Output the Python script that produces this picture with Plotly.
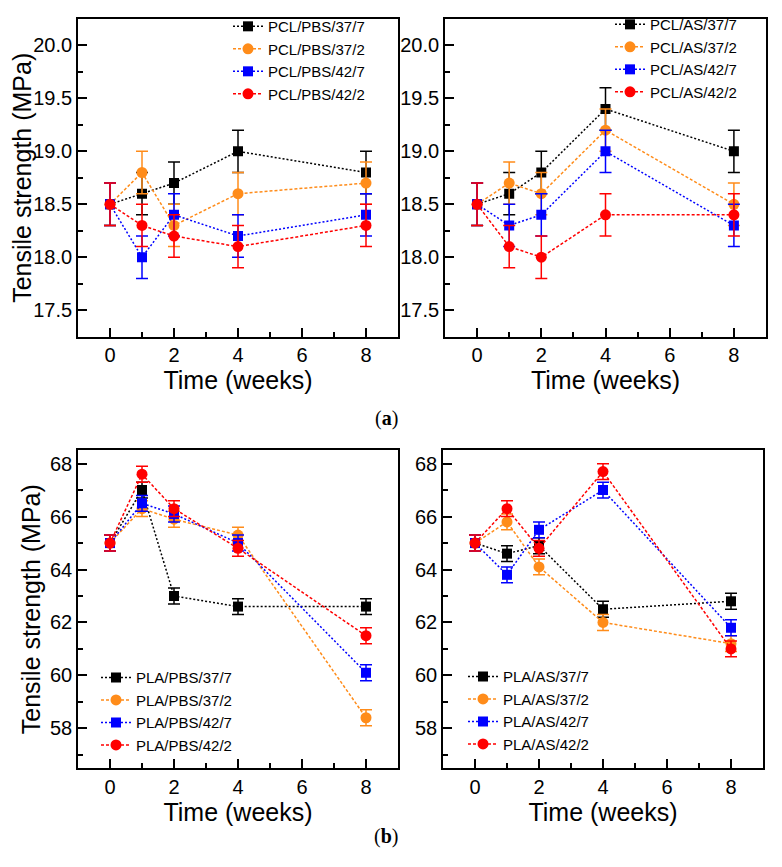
import plotly.graph_objects as go

weeks = [0, 1, 2, 4, 8]

series_names = ["37/7", "37/2", "42/7", "42/2"]
colors = ["#000000", "#FF8C1A", "#0000FF", "#FF0000"]
symbols = ["square", "circle", "square", "circle"]
dashes = ["2px,2px", "3px,2px", "2px,2px", "3px,2px"]

# (a) PCL blends
pcl_pbs = [
    [18.5, 18.6, 18.7, 19.0, 18.8],
    [18.5, 18.8, 18.3, 18.6, 18.7],
    [18.5, 18.0, 18.4, 18.2, 18.4],
    [18.5, 18.3, 18.2, 18.1, 18.3],
]
pcl_pbs_err = [0.2, 0.2, 0.2, 0.2]

pcl_as = [
    [18.5, 18.6, 18.8, 19.4, 19.0],
    [18.5, 18.7, 18.6, 19.2, 18.5],
    [18.5, 18.3, 18.4, 19.0, 18.3],
    [18.5, 18.1, 18.0, 18.4, 18.4],
]
pcl_as_err = [0.2, 0.2, 0.2, 0.2]

# (b) PLA blends
pla_pbs = [
    [65.0, 67.0, 63.0, 62.6, 62.6],
    [65.0, 66.3, 65.9, 65.3, 58.4],
    [65.0, 66.5, 66.1, 65.0, 60.1],
    [65.0, 67.6, 66.3, 64.8, 61.5],
]
pla_pbs_err = [0.3, 0.3, 0.3, 0.3]

pla_as = [
    [65.0, 64.6, 64.9, 62.5, 62.8],
    [65.0, 65.8, 64.1, 62.0, 61.2],
    [65.0, 63.8, 65.5, 67.0, 61.8],
    [65.0, 66.3, 64.8, 67.7, 61.0],
]
pla_as_err = [0.3, 0.3, 0.3, 0.3]

panels = [
    ("PCL/PBS", pcl_pbs, pcl_pbs_err, "x", "y", "legend"),
    ("PCL/AS", pcl_as, pcl_as_err, "x2", "y2", "legend2"),
    ("PLA/PBS", pla_pbs, pla_pbs_err, "x3", "y3", "legend3"),
    ("PLA/AS", pla_as, pla_as_err, "x4", "y4", "legend4"),
]

FONT = "Liberation Sans, Arial, sans-serif"
OFF = 8  # page body margin
W, H = 782 - OFF, 867 - OFF

fig = go.Figure()
for prefix, data, errs, xa, ya, lg in panels:
    for i in range(4):
        fig.add_trace(go.Scatter(
            x=weeks, y=data[i], mode="lines+markers",
            name=f"{prefix}/{series_names[i]}",
            line=dict(color=colors[i], width=1.5, dash=dashes[i]),
            marker=dict(symbol=symbols[i], size=11 if symbols[i] == "circle" else 10,
                        color=colors[i], line=dict(width=0)),
            error_y=dict(type="constant", value=errs[i], color=colors[i],
                         thickness=1.5, width=6),
            xaxis=xa, yaxis=ya, legend=lg,
        ))

def px2x(p):
    return (p - OFF) / W

def px2y(p):
    return 1 - (p - OFF) / H

axis_common = dict(
    showline=True, linecolor="black", linewidth=1.6, mirror=True,
    ticks="inside", ticklen=9, tickwidth=1.5, tickcolor="black",
    showgrid=False, zeroline=False, automargin=False,
    tickfont=dict(family=FONT, size=20, color="black"),
)

def xaxis(dom, anchor):
    return dict(axis_common, domain=dom, anchor=anchor, range=[-1, 9],
                tickmode="linear", tick0=0, dtick=2,
                minor=dict(ticks="inside", ticklen=5, tickwidth=1.5, tickcolor="black", dtick=1, tick0=0),
                title=dict(text="Time (weeks)", font=dict(family=FONT, size=25, color="black"), standoff=0))

def yaxis(dom, anchor, rng, dtick, mdtick, fmt, title):
    d = dict(axis_common, domain=dom, anchor=anchor, range=rng,
             tickmode="linear", tick0=0, dtick=dtick, tickformat=fmt,
             minor=dict(ticks="inside", ticklen=5, tickwidth=1.5, tickcolor="black", dtick=mdtick, tick0=0))
    if title:
        d["title"] = dict(text="Tensile strength (MPa)", font=dict(family=FONT, size=25, color="black"), standoff=2)
    return d

xa_left = [px2x(78), px2x(398)]
xa_right = [px2x(445), px2x(766)]
xb_left = [px2x(78), px2x(398)]
xb_right = [px2x(443), px2x(763)]
ya_dom = [px2y(331), px2y(10)]
yb_dom = [px2y(767), px2y(446)]

legend_common = dict(bgcolor="rgba(0,0,0,0)", borderwidth=0,
                     font=dict(family=FONT, size=15, color="black"),
                     xanchor="left", yanchor="top", tracegroupgap=0, itemwidth=30)

fig.update_layout(
    width=W, height=H, template="none",
    paper_bgcolor="white", plot_bgcolor="white",
    margin=dict(l=0, r=0, t=0, b=0),
    showlegend=True,
    xaxis=xaxis(xa_left, "y"),
    yaxis=yaxis(ya_dom, "x", [17.25, 20.25], 0.5, 0.25, ".1f", True),
    xaxis2=xaxis(xa_right, "y2"),
    yaxis2=yaxis(ya_dom, "x2", [17.25, 20.25], 0.5, 0.25, ".1f", False),
    xaxis3=xaxis(xb_left, "y3"),
    yaxis3=yaxis(yb_dom, "x3", [56.5, 68.5], 2, 1, "d", True),
    xaxis4=xaxis(xb_right, "y4"),
    yaxis4=yaxis(yb_dom, "x4", [56.5, 68.5], 2, 1, "d", False),
    legend=dict(legend_common, x=px2x(228), y=px2y(1)),
    legend2=dict(legend_common, x=px2x(610), y=px2y(-1)),
    legend3=dict(legend_common, x=px2x(96), y=px2y(659)),
    legend4=dict(legend_common, x=px2x(463), y=px2y(658)),
    annotations=[
        dict(text="(<b>a</b>)", x=px2x(386), y=px2y(414), xref="paper", yref="paper",
             showarrow=False, font=dict(family="Liberation Serif, serif", size=20, color="black")),
        dict(text="(<b>b</b>)", x=px2x(386), y=px2y(850), xref="paper", yref="paper",
             showarrow=False, font=dict(family="Liberation Serif, serif", size=20, color="black")),
    ],
)

fig.write_html("out.html")
